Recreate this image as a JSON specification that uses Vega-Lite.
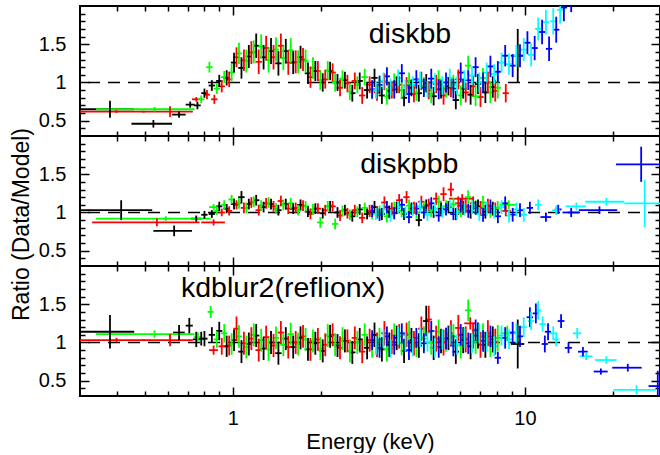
{
"$schema":"https://vega.github.io/schema/vega-lite/v6.json",
"padding":{"left":8,"top":4,"right":0,"bottom":0},
"background":"white",
"spacing":0,
"bounds":"flush",
"config":{"view":{"stroke":"black","strokeWidth":2},"font":"Liberation Sans","axis":{"domain":false,"grid":false,"tickColor":"black","tickWidth":1.5,"labelFont":"Liberation Sans","labelFontSize":20,"labelColor":"black","titleFont":"Liberation Sans","titleFontSize":22,"titleFontWeight":"normal","titleColor":"black"}},
"datasets":{
"p1":[
{"c":"k","e":0.38,"w":0.08,"r":0.65,"d":0.11},{"c":"k","e":0.535,"w":0.085,"r":0.46,"d":0.05},{"c":"k","e":0.655,"w":0.035,"r":0.58,"d":0.04},{"c":"k","e":0.715,"w":0.025,"r":0.71,"d":0.04},{"c":"k","e":0.757,"w":0.02,"r":0.70,"d":0.05},
{"c":"k","e":0.8,"w":0.02,"r":0.86,"d":0.06},{"c":"k","e":0.848,"w":0.021,"r":0.96,"d":0.07},{"c":"k","e":0.899,"w":0.022,"r":1.02,"d":0.08},{"c":"k","e":0.953,"w":0.024,"r":1.06,"d":0.1},{"c":"k","e":1.01,"w":0.025,"r":1.26,"d":0.13},{"c":"k","e":1.071,"w":0.027,"r":1.19,"d":0.14},{"c":"k","e":1.135,"w":0.028,"r":1.34,"d":0.15},{"c":"k","e":1.203,"w":0.03,"r":1.48,"d":0.16},{"c":"k","e":1.275,"w":0.032,"r":1.33,"d":0.16},{"c":"k","e":1.352,"w":0.034,"r":1.41,"d":0.17},{"c":"k","e":1.433,"w":0.036,"r":1.25,"d":0.16},{"c":"k","e":1.519,"w":0.038,"r":1.41,"d":0.16},{"c":"k","e":1.61,"w":0.04,"r":1.26,"d":0.15},{"c":"k","e":1.706,"w":0.043,"r":1.33,"d":0.15},{"c":"k","e":1.809,"w":0.045,"r":1.12,"d":0.14},{"c":"k","e":1.917,"w":0.048,"r":1.15,"d":0.13},{"c":"k","e":2.032,"w":0.051,"r":1.0,"d":0.12},{"c":"k","e":2.154,"w":0.054,"r":1.15,"d":0.12},{"c":"k","e":2.283,"w":0.057,"r":1.0,"d":0.11},{"c":"k","e":2.42,"w":0.06,"r":1.03,"d":0.11},{"c":"k","e":2.566,"w":0.064,"r":0.86,"d":0.11},{"c":"k","e":2.72,"w":0.068,"r":1.02,"d":0.11},{"c":"k","e":2.883,"w":0.072,"r":0.9,"d":0.11},{"c":"k","e":3.056,"w":0.076,"r":1.06,"d":0.12},{"c":"k","e":3.239,"w":0.081,"r":0.83,"d":0.11},{"c":"k","e":3.434,"w":0.086,"r":0.89,"d":0.11},{"c":"k","e":3.64,"w":0.091,"r":0.97,"d":0.11},{"c":"k","e":3.858,"w":0.096,"r":0.8,"d":0.11},{"c":"k","e":4.089,"w":0.102,"r":0.93,"d":0.11},{"c":"k","e":4.335,"w":0.108,"r":0.86,"d":0.11},{"c":"k","e":4.595,"w":0.115,"r":0.99,"d":0.12},{"c":"k","e":4.871,"w":0.122,"r":0.82,"d":0.12},{"c":"k","e":5.163,"w":0.129,"r":0.91,"d":0.12},{"c":"k","e":5.473,"w":0.137,"r":0.95,"d":0.12},{"c":"k","e":5.801,"w":0.145,"r":0.77,"d":0.12},{"c":"k","e":6.149,"w":0.154,"r":0.92,"d":0.13},{"c":"k","e":6.518,"w":0.163,"r":0.84,"d":0.13},{"c":"k","e":6.909,"w":0.173,"r":0.98,"d":0.13},{"c":"k","e":7.323,"w":0.183,"r":0.87,"d":0.14},{"c":"k","e":7.763,"w":0.194,"r":0.94,"d":0.14},{"c":"k","e":9.45,"w":0.5,"r":1.35,"d":0.35},
{"c":"r","e":0.4,"w":0.1,"r":0.62,"d":0.02},{"c":"r","e":0.61,"w":0.12,"r":0.62,"d":0.07},{"c":"r","e":0.75,"w":0.025,"r":0.78,"d":0.03},
{"c":"r","e":0.816,"w":0.02,"r":0.84,"d":0.06},{"c":"r","e":0.865,"w":0.022,"r":0.78,"d":0.06},{"c":"r","e":0.917,"w":0.023,"r":0.95,"d":0.08},{"c":"r","e":0.972,"w":0.024,"r":1.04,"d":0.1},{"c":"r","e":1.03,"w":0.026,"r":1.33,"d":0.13},{"c":"r","e":1.092,"w":0.027,"r":1.29,"d":0.14},{"c":"r","e":1.158,"w":0.029,"r":1.39,"d":0.15},{"c":"r","e":1.227,"w":0.031,"r":1.27,"d":0.16},{"c":"r","e":1.301,"w":0.033,"r":1.45,"d":0.16},{"c":"r","e":1.379,"w":0.034,"r":1.33,"d":0.16},{"c":"r","e":1.461,"w":0.037,"r":1.48,"d":0.16},{"c":"r","e":1.549,"w":0.039,"r":1.26,"d":0.16},{"c":"r","e":1.642,"w":0.041,"r":1.27,"d":0.15},{"c":"r","e":1.74,"w":0.044,"r":1.3,"d":0.15},{"c":"r","e":1.845,"w":0.046,"r":1.07,"d":0.14},{"c":"r","e":1.956,"w":0.049,"r":1.15,"d":0.13},{"c":"r","e":2.073,"w":0.052,"r":1.04,"d":0.12},{"c":"r","e":2.197,"w":0.055,"r":1.13,"d":0.12},{"c":"r","e":2.329,"w":0.058,"r":0.93,"d":0.11},{"c":"r","e":2.469,"w":0.062,"r":0.99,"d":0.11},{"c":"r","e":2.617,"w":0.065,"r":1.02,"d":0.11},{"c":"r","e":2.774,"w":0.069,"r":0.83,"d":0.11},{"c":"r","e":2.941,"w":0.074,"r":0.97,"d":0.11},{"c":"r","e":3.117,"w":0.078,"r":0.87,"d":0.11},{"c":"r","e":3.304,"w":0.083,"r":1.01,"d":0.11},{"c":"r","e":3.502,"w":0.088,"r":0.9,"d":0.11},{"c":"r","e":3.712,"w":0.093,"r":0.97,"d":0.11},{"c":"r","e":3.935,"w":0.098,"r":0.96,"d":0.11},{"c":"r","e":4.171,"w":0.104,"r":0.85,"d":0.11},{"c":"r","e":4.421,"w":0.111,"r":1.02,"d":0.12},{"c":"r","e":4.687,"w":0.117,"r":0.9,"d":0.12},{"c":"r","e":4.968,"w":0.124,"r":0.98,"d":0.12},{"c":"r","e":5.266,"w":0.132,"r":0.83,"d":0.12},{"c":"r","e":5.582,"w":0.14,"r":0.93,"d":0.12},{"c":"r","e":5.917,"w":0.148,"r":1.04,"d":0.13},{"c":"r","e":6.272,"w":0.157,"r":0.87,"d":0.13},{"c":"r","e":6.648,"w":0.166,"r":0.95,"d":0.13},{"c":"r","e":7.047,"w":0.176,"r":0.81,"d":0.13},{"c":"r","e":7.47,"w":0.187,"r":1.0,"d":0.14},{"c":"r","e":7.918,"w":0.198,"r":0.89,"d":0.14},{"c":"r","e":8.6,"w":0.21,"r":0.86,"d":0.12},
{"c":"g","e":0.54,"w":0.2,"r":0.65,"d":0.03},{"c":"g","e":0.78,"w":0.02,"r":0.78,"d":0.05},
{"c":"g","e":0.832,"w":0.021,"r":1.2,"d":0.07},{"c":"g","e":0.882,"w":0.022,"r":0.92,"d":0.07},{"c":"g","e":0.935,"w":0.023,"r":1.07,"d":0.08},{"c":"g","e":0.991,"w":0.025,"r":1.13,"d":0.11},{"c":"g","e":1.05,"w":0.026,"r":1.38,"d":0.14},{"c":"g","e":1.113,"w":0.028,"r":1.28,"d":0.15},{"c":"g","e":1.18,"w":0.03,"r":1.4,"d":0.15},{"c":"g","e":1.251,"w":0.031,"r":1.47,"d":0.16},{"c":"g","e":1.326,"w":0.033,"r":1.29,"d":0.16},{"c":"g","e":1.406,"w":0.035,"r":1.43,"d":0.16},{"c":"g","e":1.49,"w":0.037,"r":1.32,"d":0.16},{"c":"g","e":1.579,"w":0.039,"r":1.42,"d":0.16},{"c":"g","e":1.674,"w":0.042,"r":1.27,"d":0.15},{"c":"g","e":1.775,"w":0.044,"r":1.28,"d":0.15},{"c":"g","e":1.881,"w":0.047,"r":1.19,"d":0.14},{"c":"g","e":1.994,"w":0.05,"r":1.03,"d":0.13},{"c":"g","e":2.114,"w":0.053,"r":1.16,"d":0.12},{"c":"g","e":2.241,"w":0.056,"r":1.0,"d":0.12},{"c":"g","e":2.375,"w":0.059,"r":1.05,"d":0.11},{"c":"g","e":2.517,"w":0.063,"r":0.88,"d":0.11},{"c":"g","e":2.669,"w":0.067,"r":0.97,"d":0.11},{"c":"g","e":2.829,"w":0.071,"r":1.07,"d":0.11},{"c":"g","e":2.999,"w":0.075,"r":0.89,"d":0.11},{"c":"g","e":3.178,"w":0.079,"r":0.96,"d":0.11},{"c":"g","e":3.369,"w":0.084,"r":0.82,"d":0.11},{"c":"g","e":3.571,"w":0.089,"r":1.01,"d":0.11},{"c":"g","e":3.786,"w":0.095,"r":0.9,"d":0.11},{"c":"g","e":4.013,"w":0.1,"r":1.02,"d":0.11},{"c":"g","e":4.254,"w":0.106,"r":0.87,"d":0.11},{"c":"g","e":4.509,"w":0.113,"r":0.95,"d":0.12},{"c":"g","e":4.779,"w":0.119,"r":0.85,"d":0.12},{"c":"g","e":5.066,"w":0.127,"r":1.04,"d":0.12},{"c":"g","e":5.37,"w":0.134,"r":0.92,"d":0.12},{"c":"g","e":5.692,"w":0.142,"r":0.98,"d":0.12},{"c":"g","e":6.034,"w":0.151,"r":0.83,"d":0.13},{"c":"g","e":6.396,"w":0.16,"r":1.22,"d":0.13},{"c":"g","e":6.779,"w":0.2,"r":0.82,"d":0.13},{"c":"g","e":7.186,"w":0.18,"r":1.06,"d":0.13},{"c":"g","e":7.617,"w":0.19,"r":0.87,"d":0.14},{"c":"g","e":8.074,"w":0.202,"r":0.93,"d":0.14},
{"c":"b","e":3.0,"w":0.075,"r":0.91,"d":0.12},{"c":"b","e":3.18,"w":0.08,"r":0.97,"d":0.12},{"c":"b","e":3.37,"w":0.084,"r":1.08,"d":0.12},{"c":"b","e":3.57,"w":0.089,"r":0.91,"d":0.12},{"c":"b","e":3.79,"w":0.095,"r":1.12,"d":0.12},{"c":"b","e":4.01,"w":0.1,"r":0.85,"d":0.12},{"c":"b","e":4.25,"w":0.106,"r":1.04,"d":0.12},{"c":"b","e":4.51,"w":0.113,"r":0.93,"d":0.12},{"c":"b","e":4.78,"w":0.12,"r":1.05,"d":0.13},{"c":"b","e":5.07,"w":0.127,"r":0.91,"d":0.13},{"c":"b","e":5.37,"w":0.134,"r":1.0,"d":0.13},{"c":"b","e":5.69,"w":0.142,"r":0.92,"d":0.13},{"c":"b","e":6.03,"w":0.151,"r":1.13,"d":0.13},{"c":"b","e":6.4,"w":0.16,"r":1.03,"d":0.13},{"c":"b","e":6.78,"w":0.17,"r":1.2,"d":0.13},{"c":"b","e":7.19,"w":0.18,"r":1.0,"d":0.13},{"c":"b","e":7.62,"w":0.19,"r":1.21,"d":0.14},{"c":"b","e":8.08,"w":0.202,"r":1.14,"d":0.14},{"c":"b","e":8.56,"w":0.214,"r":1.35,"d":0.14},{"c":"b","e":9.08,"w":0.227,"r":1.22,"d":0.15},{"c":"b","e":9.62,"w":0.24,"r":1.35,"d":0.15},{"c":"b","e":10.2,"w":0.255,"r":1.52,"d":0.15},{"c":"b","e":10.8,"w":0.27,"r":1.45,"d":0.16},{"c":"b","e":11.45,"w":0.29,"r":1.66,"d":0.16},{"c":"b","e":12.1,"w":0.3,"r":1.44,"d":0.16},{"c":"b","e":12.8,"w":0.32,"r":1.69,"d":0.17},{"c":"b","e":13.6,"w":0.34,"r":1.98,"d":0.18},{"c":"b","e":14.4,"w":0.36,"r":2.1,"d":0.18},
{"c":"c","e":3.09,"w":0.077,"r":0.9,"d":0.11},{"c":"c","e":3.28,"w":0.082,"r":1.02,"d":0.11},{"c":"c","e":3.47,"w":0.087,"r":0.94,"d":0.11},{"c":"c","e":3.68,"w":0.092,"r":1.06,"d":0.11},{"c":"c","e":3.9,"w":0.098,"r":0.93,"d":0.11},{"c":"c","e":4.13,"w":0.103,"r":0.97,"d":0.11},{"c":"c","e":4.38,"w":0.11,"r":1.03,"d":0.11},{"c":"c","e":4.64,"w":0.116,"r":0.91,"d":0.11},{"c":"c","e":4.92,"w":0.123,"r":1.0,"d":0.12},{"c":"c","e":5.22,"w":0.13,"r":0.96,"d":0.12},{"c":"c","e":5.53,"w":0.138,"r":1.06,"d":0.12},{"c":"c","e":5.86,"w":0.147,"r":0.96,"d":0.12},{"c":"c","e":6.21,"w":0.155,"r":1.04,"d":0.12},{"c":"c","e":6.59,"w":0.165,"r":1.09,"d":0.12},{"c":"c","e":6.98,"w":0.175,"r":1.0,"d":0.13},{"c":"c","e":7.4,"w":0.185,"r":1.13,"d":0.13},{"c":"c","e":7.85,"w":0.196,"r":1.11,"d":0.13},{"c":"c","e":8.32,"w":0.208,"r":1.26,"d":0.13},{"c":"c","e":8.82,"w":0.22,"r":1.24,"d":0.14},{"c":"c","e":9.35,"w":0.234,"r":1.35,"d":0.14},{"c":"c","e":9.91,"w":0.248,"r":1.43,"d":0.15},{"c":"c","e":10.5,"w":0.26,"r":1.36,"d":0.15},{"c":"c","e":11.1,"w":0.28,"r":1.7,"d":0.15},{"c":"c","e":11.8,"w":0.3,"r":1.79,"d":0.16},{"c":"c","e":12.5,"w":0.31,"r":1.8,"d":0.17},{"c":"c","e":13.2,"w":0.33,"r":1.95,"d":0.18}
],
"p2":[
{"c":"k","e":0.415,"w":0.115,"r":1.03,"d":0.13},{"c":"k","e":0.63,"w":0.095,"r":0.76,"d":0.07},{"c":"k","e":0.75,"w":0.03,"r":0.92,"d":0.04},
{"c":"k","e":0.8,"w":0.02,"r":0.97,"d":0.05},{"c":"k","e":0.848,"w":0.021,"r":0.98,"d":0.05},{"c":"k","e":0.899,"w":0.022,"r":1.08,"d":0.06},{"c":"k","e":0.953,"w":0.024,"r":1.05,"d":0.06},{"c":"k","e":1.01,"w":0.025,"r":1.11,"d":0.07},{"c":"k","e":1.071,"w":0.027,"r":1.2,"d":0.08},{"c":"k","e":1.135,"w":0.028,"r":1.11,"d":0.07},{"c":"k","e":1.203,"w":0.03,"r":1.16,"d":0.07},{"c":"k","e":1.275,"w":0.032,"r":1.07,"d":0.07},{"c":"k","e":1.352,"w":0.034,"r":1.11,"d":0.07},{"c":"k","e":1.433,"w":0.036,"r":1.03,"d":0.07},{"c":"k","e":1.519,"w":0.038,"r":1.11,"d":0.07},{"c":"k","e":1.61,"w":0.04,"r":1.05,"d":0.07},{"c":"k","e":1.706,"w":0.043,"r":1.1,"d":0.07},{"c":"k","e":1.809,"w":0.045,"r":1.01,"d":0.07},{"c":"k","e":1.917,"w":0.048,"r":1.05,"d":0.07},{"c":"k","e":2.032,"w":0.051,"r":0.99,"d":0.07},{"c":"k","e":2.154,"w":0.054,"r":1.08,"d":0.07},{"c":"k","e":2.283,"w":0.057,"r":1.0,"d":0.07},{"c":"k","e":2.42,"w":0.06,"r":1.03,"d":0.07},{"c":"k","e":2.566,"w":0.064,"r":0.95,"d":0.07},{"c":"k","e":2.72,"w":0.068,"r":1.04,"d":0.07},{"c":"k","e":2.883,"w":0.072,"r":0.98,"d":0.07},{"c":"k","e":3.056,"w":0.076,"r":1.07,"d":0.08},{"c":"k","e":3.239,"w":0.081,"r":0.98,"d":0.08},{"c":"k","e":3.434,"w":0.086,"r":1.01,"d":0.08},{"c":"k","e":3.64,"w":0.091,"r":1.06,"d":0.08},{"c":"k","e":3.858,"w":0.096,"r":0.98,"d":0.08},{"c":"k","e":4.089,"w":0.102,"r":1.05,"d":0.08},{"c":"k","e":4.335,"w":0.108,"r":0.9,"d":0.08},{"c":"k","e":4.595,"w":0.115,"r":1.09,"d":0.08},{"c":"k","e":4.871,"w":0.122,"r":1.01,"d":0.08},{"c":"k","e":5.163,"w":0.129,"r":1.05,"d":0.08},{"c":"k","e":5.473,"w":0.137,"r":1.07,"d":0.08},{"c":"k","e":5.801,"w":0.145,"r":0.98,"d":0.08},{"c":"k","e":6.149,"w":0.154,"r":1.06,"d":0.09},{"c":"k","e":6.518,"w":0.163,"r":1.01,"d":0.09},{"c":"k","e":6.909,"w":0.173,"r":1.08,"d":0.09},{"c":"k","e":7.323,"w":0.183,"r":1.01,"d":0.09},{"c":"k","e":7.763,"w":0.194,"r":1.05,"d":0.09},
{"c":"r","e":0.55,"w":0.22,"r":0.87,"d":0.05},{"c":"r","e":0.86,"w":0.08,"r":0.87,"d":0.04},
{"c":"r","e":0.917,"w":0.023,"r":1.0,"d":0.05},{"c":"r","e":0.972,"w":0.024,"r":1.02,"d":0.06},{"c":"r","e":1.03,"w":0.026,"r":1.1,"d":0.06},{"c":"r","e":1.092,"w":0.027,"r":1.06,"d":0.07},{"c":"r","e":1.158,"w":0.029,"r":1.13,"d":0.07},{"c":"r","e":1.227,"w":0.031,"r":1.03,"d":0.07},{"c":"r","e":1.301,"w":0.033,"r":1.12,"d":0.07},{"c":"r","e":1.379,"w":0.034,"r":1.08,"d":0.07},{"c":"r","e":1.461,"w":0.037,"r":1.15,"d":0.07},{"c":"r","e":1.549,"w":0.039,"r":1.05,"d":0.07},{"c":"r","e":1.642,"w":0.041,"r":1.06,"d":0.07},{"c":"r","e":1.74,"w":0.044,"r":1.09,"d":0.07},{"c":"r","e":1.845,"w":0.046,"r":0.98,"d":0.07},{"c":"r","e":1.956,"w":0.049,"r":1.05,"d":0.07},{"c":"r","e":2.073,"w":0.052,"r":1.03,"d":0.07},{"c":"r","e":2.197,"w":0.055,"r":1.08,"d":0.07},{"c":"r","e":2.329,"w":0.058,"r":0.96,"d":0.07},{"c":"r","e":2.469,"w":0.062,"r":0.99,"d":0.07},{"c":"r","e":2.617,"w":0.065,"r":1.03,"d":0.07},{"c":"r","e":2.774,"w":0.069,"r":0.93,"d":0.07},{"c":"r","e":2.941,"w":0.074,"r":1.02,"d":0.08},{"c":"r","e":3.117,"w":0.078,"r":1.0,"d":0.08},{"c":"r","e":3.304,"w":0.083,"r":1.13,"d":0.08},{"c":"r","e":3.502,"w":0.088,"r":1.05,"d":0.08},{"c":"r","e":3.712,"w":0.093,"r":1.16,"d":0.08},{"c":"r","e":3.935,"w":0.098,"r":1.2,"d":0.08},{"c":"r","e":4.171,"w":0.104,"r":1.06,"d":0.08},{"c":"r","e":4.421,"w":0.111,"r":1.14,"d":0.08},{"c":"r","e":4.687,"w":0.117,"r":1.1,"d":0.08},{"c":"r","e":4.968,"w":0.124,"r":1.18,"d":0.08},{"c":"r","e":5.266,"w":0.132,"r":1.24,"d":0.09},{"c":"r","e":5.582,"w":0.14,"r":1.3,"d":0.09},{"c":"r","e":5.917,"w":0.148,"r":1.12,"d":0.09},{"c":"r","e":6.1,"w":0.6,"r":1.18,"d":0.06},{"c":"r","e":6.272,"w":0.157,"r":1.08,"d":0.09},{"c":"r","e":6.648,"w":0.166,"r":1.12,"d":0.09},{"c":"r","e":7.047,"w":0.176,"r":1.06,"d":0.09},{"c":"r","e":7.47,"w":0.187,"r":1.09,"d":0.09},{"c":"r","e":7.918,"w":0.198,"r":1.04,"d":0.09},{"c":"r","e":8.6,"w":0.35,"r":1.02,"d":0.07},
{"c":"g","e":0.59,"w":0.25,"r":0.92,"d":0.03},{"c":"g","e":0.86,"w":0.03,"r":1.07,"d":0.04},
{"c":"g","e":0.882,"w":0.022,"r":1.02,"d":0.05},{"c":"g","e":0.935,"w":0.023,"r":1.1,"d":0.06},{"c":"g","e":0.991,"w":0.025,"r":1.17,"d":0.06},{"c":"g","e":1.05,"w":0.026,"r":1.12,"d":0.07},{"c":"g","e":1.113,"w":0.028,"r":1.06,"d":0.07},{"c":"g","e":1.18,"w":0.03,"r":1.14,"d":0.07},{"c":"g","e":1.251,"w":0.031,"r":1.09,"d":0.07},{"c":"g","e":1.326,"w":0.033,"r":1.13,"d":0.07},{"c":"g","e":1.406,"w":0.035,"r":1.05,"d":0.07},{"c":"g","e":1.49,"w":0.037,"r":1.1,"d":0.07},{"c":"g","e":1.579,"w":0.039,"r":1.12,"d":0.07},{"c":"g","e":1.674,"w":0.042,"r":1.03,"d":0.07},{"c":"g","e":1.775,"w":0.044,"r":1.08,"d":0.07},{"c":"g","e":1.881,"w":0.047,"r":1.04,"d":0.07},{"c":"g","e":1.994,"w":0.05,"r":0.87,"d":0.07},{"c":"g","e":2.114,"w":0.053,"r":1.08,"d":0.07},{"c":"g","e":2.241,"w":0.056,"r":0.85,"d":0.07},{"c":"g","e":2.375,"w":0.059,"r":1.02,"d":0.07},{"c":"g","e":2.517,"w":0.063,"r":0.97,"d":0.07},{"c":"g","e":2.669,"w":0.067,"r":1.01,"d":0.07},{"c":"g","e":2.829,"w":0.071,"r":1.06,"d":0.07},{"c":"g","e":2.999,"w":0.075,"r":0.98,"d":0.07},{"c":"g","e":3.178,"w":0.079,"r":1.01,"d":0.08},{"c":"g","e":3.369,"w":0.084,"r":0.95,"d":0.08},{"c":"g","e":3.571,"w":0.089,"r":1.06,"d":0.08},{"c":"g","e":3.786,"w":0.095,"r":1.02,"d":0.08},{"c":"g","e":4.013,"w":0.1,"r":1.09,"d":0.08},{"c":"g","e":4.254,"w":0.106,"r":1.0,"d":0.08},{"c":"g","e":4.509,"w":0.113,"r":1.06,"d":0.08},{"c":"g","e":4.779,"w":0.119,"r":1.02,"d":0.08},{"c":"g","e":5.066,"w":0.127,"r":1.14,"d":0.08},{"c":"g","e":5.37,"w":0.134,"r":1.08,"d":0.08},{"c":"g","e":5.692,"w":0.142,"r":1.11,"d":0.08},{"c":"g","e":6.034,"w":0.151,"r":1.03,"d":0.09},{"c":"g","e":6.396,"w":0.16,"r":1.2,"d":0.09},{"c":"g","e":6.779,"w":0.169,"r":1.07,"d":0.09},{"c":"g","e":7.186,"w":0.18,"r":1.13,"d":0.09},{"c":"g","e":7.617,"w":0.19,"r":1.02,"d":0.09},{"c":"g","e":8.074,"w":0.202,"r":1.06,"d":0.09},{"c":"g","e":8.8,"w":0.6,"r":1.1,"d":0.06},
{"c":"b","e":3.0,"w":0.075,"r":1.02,"d":0.08},{"c":"b","e":3.18,"w":0.08,"r":0.97,"d":0.08},{"c":"b","e":3.37,"w":0.084,"r":1.07,"d":0.08},{"c":"b","e":3.57,"w":0.089,"r":0.99,"d":0.08},{"c":"b","e":3.79,"w":0.095,"r":1.1,"d":0.08},{"c":"b","e":4.01,"w":0.1,"r":0.94,"d":0.08},{"c":"b","e":4.25,"w":0.106,"r":1.05,"d":0.08},{"c":"b","e":4.51,"w":0.113,"r":1.0,"d":0.08},{"c":"b","e":4.78,"w":0.12,"r":1.12,"d":0.08},{"c":"b","e":5.07,"w":0.127,"r":0.96,"d":0.08},{"c":"b","e":5.37,"w":0.134,"r":1.04,"d":0.08},{"c":"b","e":5.69,"w":0.142,"r":0.98,"d":0.08},{"c":"b","e":6.03,"w":0.151,"r":1.09,"d":0.09},{"c":"b","e":6.4,"w":0.16,"r":1.02,"d":0.09},{"c":"b","e":6.78,"w":0.17,"r":1.06,"d":0.09},{"c":"b","e":7.19,"w":0.18,"r":0.97,"d":0.09},{"c":"b","e":7.62,"w":0.19,"r":1.08,"d":0.09},{"c":"b","e":8.08,"w":0.202,"r":0.95,"d":0.09},{"c":"b","e":8.56,"w":0.214,"r":1.12,"d":0.09},{"c":"b","e":9.08,"w":0.227,"r":0.97,"d":0.09},{"c":"b","e":9.62,"w":0.24,"r":1.03,"d":0.09},{"c":"b","e":10.4,"w":0.26,"r":1.06,"d":0.08},{"c":"b","e":11.8,"w":0.5,"r":0.94,"d":0.06},{"c":"b","e":13.0,"w":0.35,"r":1.04,"d":0.06},{"c":"b","e":14.4,"w":0.95,"r":1.0,"d":0.06},{"c":"b","e":18.0,"w":2.7,"r":1.03,"d":0.05},{"c":"b","e":25.0,"w":4.5,"r":1.63,"d":0.23},
{"c":"c","e":3.09,"w":0.077,"r":0.98,"d":0.08},{"c":"c","e":3.28,"w":0.082,"r":1.04,"d":0.08},{"c":"c","e":3.47,"w":0.087,"r":0.96,"d":0.08},{"c":"c","e":3.68,"w":0.092,"r":1.07,"d":0.08},{"c":"c","e":3.9,"w":0.098,"r":1.0,"d":0.08},{"c":"c","e":4.13,"w":0.103,"r":1.03,"d":0.08},{"c":"c","e":4.38,"w":0.11,"r":1.08,"d":0.08},{"c":"c","e":4.64,"w":0.116,"r":0.97,"d":0.08},{"c":"c","e":4.92,"w":0.123,"r":1.05,"d":0.08},{"c":"c","e":5.22,"w":0.13,"r":1.01,"d":0.08},{"c":"c","e":5.53,"w":0.138,"r":1.09,"d":0.08},{"c":"c","e":5.86,"w":0.147,"r":0.99,"d":0.08},{"c":"c","e":6.21,"w":0.155,"r":1.04,"d":0.08},{"c":"c","e":6.59,"w":0.165,"r":1.07,"d":0.09},{"c":"c","e":6.98,"w":0.175,"r":0.98,"d":0.09},{"c":"c","e":7.4,"w":0.185,"r":1.05,"d":0.09},{"c":"c","e":7.85,"w":0.196,"r":1.01,"d":0.09},{"c":"c","e":8.32,"w":0.208,"r":1.07,"d":0.09},{"c":"c","e":8.82,"w":0.22,"r":0.96,"d":0.09},{"c":"c","e":9.35,"w":0.234,"r":1.04,"d":0.09},{"c":"c","e":9.91,"w":0.248,"r":0.97,"d":0.09},{"c":"c","e":11.1,"w":0.28,"r":1.1,"d":0.07},{"c":"c","e":12.8,"w":0.4,"r":1.03,"d":0.06},{"c":"c","e":15.0,"w":1.2,"r":1.08,"d":0.05},{"c":"c","e":19.0,"w":2.9,"r":1.14,"d":0.05},{"c":"c","e":25.7,"w":3.8,"r":1.12,"d":0.31}
],
"p3":[
{"c":"k","e":0.38,"w":0.08,"r":1.14,"d":0.22},{"c":"k","e":0.655,"w":0.03,"r":1.13,"d":0.1},{"c":"k","e":0.71,"w":0.02,"r":1.22,"d":0.1},{"c":"k","e":0.75,"w":0.02,"r":1.04,"d":0.1},{"c":"k","e":0.78,"w":0.02,"r":1.05,"d":0.09},
{"c":"k","e":0.8,"w":0.02,"r":1.05,"d":0.1},{"c":"k","e":0.848,"w":0.021,"r":1.1,"d":0.1},{"c":"k","e":0.899,"w":0.022,"r":1.15,"d":0.12},{"c":"k","e":0.953,"w":0.024,"r":0.95,"d":0.14},{"c":"k","e":1.01,"w":0.025,"r":1.03,"d":0.14},{"c":"k","e":1.071,"w":0.027,"r":0.88,"d":0.15},{"c":"k","e":1.135,"w":0.028,"r":0.98,"d":0.15},{"c":"k","e":1.203,"w":0.03,"r":1.09,"d":0.15},{"c":"k","e":1.275,"w":0.032,"r":0.92,"d":0.15},{"c":"k","e":1.352,"w":0.034,"r":1.0,"d":0.15},{"c":"k","e":1.433,"w":0.036,"r":0.86,"d":0.15},{"c":"k","e":1.519,"w":0.038,"r":1.05,"d":0.15},{"c":"k","e":1.61,"w":0.04,"r":0.94,"d":0.15},{"c":"k","e":1.706,"w":0.043,"r":1.06,"d":0.15},{"c":"k","e":1.809,"w":0.045,"r":0.91,"d":0.15},{"c":"k","e":1.917,"w":0.048,"r":0.99,"d":0.15},{"c":"k","e":2.032,"w":0.051,"r":0.89,"d":0.15},{"c":"k","e":2.154,"w":0.054,"r":1.08,"d":0.15},{"c":"k","e":2.283,"w":0.057,"r":0.96,"d":0.15},{"c":"k","e":2.42,"w":0.06,"r":1.02,"d":0.15},{"c":"k","e":2.566,"w":0.064,"r":0.87,"d":0.15},{"c":"k","e":2.72,"w":0.068,"r":1.04,"d":0.15},{"c":"k","e":2.883,"w":0.072,"r":0.93,"d":0.15},{"c":"k","e":3.056,"w":0.076,"r":1.1,"d":0.16},{"c":"k","e":3.239,"w":0.081,"r":0.91,"d":0.16},{"c":"k","e":3.434,"w":0.086,"r":0.97,"d":0.16},{"c":"k","e":3.64,"w":0.091,"r":1.06,"d":0.16},{"c":"k","e":3.858,"w":0.096,"r":0.89,"d":0.16},{"c":"k","e":4.089,"w":0.102,"r":1.03,"d":0.16},{"c":"k","e":4.335,"w":0.108,"r":0.96,"d":0.16},{"c":"k","e":4.595,"w":0.115,"r":1.28,"d":0.2},{"c":"k","e":4.871,"w":0.122,"r":0.93,"d":0.16},{"c":"k","e":5.163,"w":0.129,"r":1.02,"d":0.16},{"c":"k","e":5.473,"w":0.137,"r":1.06,"d":0.16},{"c":"k","e":5.801,"w":0.145,"r":0.88,"d":0.16},{"c":"k","e":6.149,"w":0.154,"r":1.03,"d":0.17},{"c":"k","e":6.518,"w":0.163,"r":0.95,"d":0.17},{"c":"k","e":6.909,"w":0.173,"r":1.09,"d":0.17},{"c":"k","e":7.323,"w":0.183,"r":0.97,"d":0.17},{"c":"k","e":7.763,"w":0.194,"r":1.04,"d":0.17},{"c":"k","e":9.45,"w":0.5,"r":0.98,"d":0.32},
{"c":"r","e":0.4,"w":0.1,"r":1.03,"d":0.03},{"c":"r","e":0.61,"w":0.12,"r":1.03,"d":0.08},{"c":"r","e":0.86,"w":0.03,"r":0.9,"d":0.06},
{"c":"r","e":0.917,"w":0.023,"r":0.95,"d":0.11},{"c":"r","e":0.972,"w":0.024,"r":0.96,"d":0.13},{"c":"r","e":1.03,"w":0.026,"r":1.18,"d":0.16},{"c":"r","e":1.092,"w":0.027,"r":0.99,"d":0.15},{"c":"r","e":1.158,"w":0.029,"r":1.05,"d":0.15},{"c":"r","e":1.227,"w":0.031,"r":0.9,"d":0.15},{"c":"r","e":1.301,"w":0.033,"r":1.07,"d":0.15},{"c":"r","e":1.379,"w":0.034,"r":0.96,"d":0.15},{"c":"r","e":1.461,"w":0.037,"r":1.13,"d":0.15},{"c":"r","e":1.549,"w":0.039,"r":0.94,"d":0.15},{"c":"r","e":1.642,"w":0.041,"r":1.0,"d":0.15},{"c":"r","e":1.74,"w":0.044,"r":1.08,"d":0.15},{"c":"r","e":1.845,"w":0.046,"r":0.91,"d":0.15},{"c":"r","e":1.956,"w":0.049,"r":1.04,"d":0.15},{"c":"r","e":2.073,"w":0.052,"r":0.97,"d":0.15},{"c":"r","e":2.197,"w":0.055,"r":1.1,"d":0.15},{"c":"r","e":2.329,"w":0.058,"r":0.93,"d":0.15},{"c":"r","e":2.469,"w":0.062,"r":1.02,"d":0.15},{"c":"r","e":2.617,"w":0.065,"r":1.06,"d":0.15},{"c":"r","e":2.774,"w":0.069,"r":0.88,"d":0.15},{"c":"r","e":2.941,"w":0.074,"r":1.03,"d":0.15},{"c":"r","e":3.117,"w":0.078,"r":0.97,"d":0.16},{"c":"r","e":3.304,"w":0.083,"r":1.12,"d":0.16},{"c":"r","e":3.502,"w":0.088,"r":1.01,"d":0.16},{"c":"r","e":3.712,"w":0.093,"r":1.08,"d":0.16},{"c":"r","e":3.935,"w":0.098,"r":1.1,"d":0.16},{"c":"r","e":4.171,"w":0.104,"r":0.99,"d":0.16},{"c":"r","e":4.421,"w":0.111,"r":1.18,"d":0.16},{"c":"r","e":4.687,"w":0.117,"r":1.3,"d":0.18},{"c":"r","e":4.968,"w":0.124,"r":1.05,"d":0.17},{"c":"r","e":5.266,"w":0.132,"r":1.0,"d":0.17},{"c":"r","e":5.582,"w":0.14,"r":1.12,"d":0.17},{"c":"r","e":5.917,"w":0.148,"r":1.19,"d":0.17},{"c":"r","e":6.272,"w":0.157,"r":1.04,"d":0.17},{"c":"r","e":6.5,"w":0.3,"r":1.25,"d":0.08},{"c":"r","e":6.648,"w":0.166,"r":1.09,"d":0.17},{"c":"r","e":7.047,"w":0.176,"r":0.97,"d":0.17},{"c":"r","e":7.47,"w":0.187,"r":1.12,"d":0.17},{"c":"r","e":7.918,"w":0.198,"r":1.01,"d":0.17},
{"c":"g","e":0.54,"w":0.2,"r":1.11,"d":0.05},{"c":"g","e":0.76,"w":0.025,"r":1.07,"d":0.06},{"c":"g","e":0.84,"w":0.02,"r":1.4,"d":0.08},
{"c":"g","e":0.882,"w":0.022,"r":1.04,"d":0.11},{"c":"g","e":0.935,"w":0.023,"r":1.12,"d":0.12},{"c":"g","e":0.991,"w":0.025,"r":0.98,"d":0.14},{"c":"g","e":1.05,"w":0.026,"r":1.08,"d":0.15},{"c":"g","e":1.113,"w":0.028,"r":0.94,"d":0.15},{"c":"g","e":1.18,"w":0.03,"r":1.1,"d":0.15},{"c":"g","e":1.251,"w":0.031,"r":1.03,"d":0.15},{"c":"g","e":1.326,"w":0.033,"r":0.91,"d":0.15},{"c":"g","e":1.406,"w":0.035,"r":1.06,"d":0.15},{"c":"g","e":1.49,"w":0.037,"r":0.97,"d":0.15},{"c":"g","e":1.579,"w":0.039,"r":1.11,"d":0.15},{"c":"g","e":1.674,"w":0.042,"r":0.98,"d":0.15},{"c":"g","e":1.775,"w":0.044,"r":1.04,"d":0.15},{"c":"g","e":1.881,"w":0.047,"r":1.02,"d":0.15},{"c":"g","e":1.994,"w":0.05,"r":0.92,"d":0.15},{"c":"g","e":2.114,"w":0.053,"r":1.09,"d":0.15},{"c":"g","e":2.241,"w":0.056,"r":0.97,"d":0.15},{"c":"g","e":2.375,"w":0.059,"r":1.05,"d":0.15},{"c":"g","e":2.517,"w":0.063,"r":0.89,"d":0.15},{"c":"g","e":2.669,"w":0.067,"r":1.0,"d":0.15},{"c":"g","e":2.829,"w":0.071,"r":1.1,"d":0.15},{"c":"g","e":2.999,"w":0.075,"r":0.96,"d":0.16},{"c":"g","e":3.178,"w":0.079,"r":1.03,"d":0.16},{"c":"g","e":3.369,"w":0.084,"r":0.91,"d":0.16},{"c":"g","e":3.571,"w":0.089,"r":1.09,"d":0.16},{"c":"g","e":3.786,"w":0.095,"r":0.99,"d":0.16},{"c":"g","e":4.013,"w":0.1,"r":1.12,"d":0.16},{"c":"g","e":4.254,"w":0.106,"r":0.97,"d":0.16},{"c":"g","e":4.509,"w":0.113,"r":1.05,"d":0.16},{"c":"g","e":4.779,"w":0.119,"r":1.0,"d":0.16},{"c":"g","e":5.066,"w":0.127,"r":1.14,"d":0.16},{"c":"g","e":5.37,"w":0.134,"r":1.04,"d":0.16},{"c":"g","e":5.692,"w":0.142,"r":1.08,"d":0.16},{"c":"g","e":6.034,"w":0.151,"r":0.96,"d":0.17},{"c":"g","e":6.396,"w":0.16,"r":1.42,"d":0.14},{"c":"g","e":6.779,"w":0.169,"r":1.02,"d":0.17},{"c":"g","e":7.186,"w":0.18,"r":1.08,"d":0.17},{"c":"g","e":7.617,"w":0.19,"r":0.98,"d":0.17},{"c":"g","e":8.074,"w":0.202,"r":1.06,"d":0.17},{"c":"g","e":8.7,"w":0.45,"r":1.12,"d":0.1},
{"c":"b","e":3.0,"w":0.075,"r":1.03,"d":0.13},{"c":"b","e":3.18,"w":0.08,"r":0.93,"d":0.13},{"c":"b","e":3.37,"w":0.084,"r":1.08,"d":0.13},{"c":"b","e":3.57,"w":0.089,"r":0.97,"d":0.13},{"c":"b","e":3.79,"w":0.095,"r":1.12,"d":0.13},{"c":"b","e":4.01,"w":0.1,"r":0.9,"d":0.13},{"c":"b","e":4.25,"w":0.106,"r":1.06,"d":0.13},{"c":"b","e":4.51,"w":0.113,"r":0.99,"d":0.13},{"c":"b","e":4.78,"w":0.12,"r":1.15,"d":0.13},{"c":"b","e":5.07,"w":0.127,"r":0.94,"d":0.14},{"c":"b","e":5.37,"w":0.134,"r":1.05,"d":0.14},{"c":"b","e":5.69,"w":0.142,"r":0.96,"d":0.14},{"c":"b","e":6.03,"w":0.151,"r":1.1,"d":0.14},{"c":"b","e":6.4,"w":0.16,"r":0.99,"d":0.14},{"c":"b","e":6.78,"w":0.17,"r":1.16,"d":0.14},{"c":"b","e":7.19,"w":0.18,"r":1.02,"d":0.14},{"c":"b","e":7.62,"w":0.19,"r":1.08,"d":0.14},{"c":"b","e":8.08,"w":0.202,"r":0.8,"d":0.08},{"c":"b","e":8.56,"w":0.214,"r":1.06,"d":0.14},{"c":"b","e":9.08,"w":0.227,"r":1.13,"d":0.14},{"c":"b","e":9.62,"w":0.24,"r":1.08,"d":0.14},{"c":"b","e":10.4,"w":0.26,"r":1.33,"d":0.13},{"c":"b","e":10.9,"w":0.27,"r":1.38,"d":0.13},{"c":"b","e":11.7,"w":0.29,"r":0.98,"d":0.11},{"c":"b","e":12.0,"w":0.3,"r":1.14,"d":0.11},{"c":"b","e":13.3,"w":0.35,"r":1.28,"d":0.09},{"c":"b","e":14.1,"w":0.4,"r":0.93,"d":0.07},{"c":"b","e":15.8,"w":0.6,"r":0.88,"d":0.06},{"c":"b","e":18.2,"w":1.0,"r":0.62,"d":0.04},{"c":"b","e":22.5,"w":2.6,"r":0.67,"d":0.05},{"c":"b","e":28.5,"w":2.0,"r":0.43,"d":0.2},
{"c":"c","e":3.09,"w":0.077,"r":0.96,"d":0.12},{"c":"c","e":3.28,"w":0.082,"r":1.05,"d":0.12},{"c":"c","e":3.47,"w":0.087,"r":0.92,"d":0.12},{"c":"c","e":3.68,"w":0.092,"r":1.09,"d":0.12},{"c":"c","e":3.9,"w":0.098,"r":1.0,"d":0.12},{"c":"c","e":4.13,"w":0.103,"r":0.94,"d":0.12},{"c":"c","e":4.38,"w":0.11,"r":1.07,"d":0.13},{"c":"c","e":4.64,"w":0.116,"r":1.01,"d":0.13},{"c":"c","e":4.92,"w":0.123,"r":0.93,"d":0.13},{"c":"c","e":5.22,"w":0.13,"r":1.04,"d":0.13},{"c":"c","e":5.53,"w":0.138,"r":1.1,"d":0.13},{"c":"c","e":5.86,"w":0.147,"r":0.97,"d":0.13},{"c":"c","e":6.21,"w":0.155,"r":1.06,"d":0.13},{"c":"c","e":6.59,"w":0.165,"r":0.99,"d":0.13},{"c":"c","e":6.98,"w":0.175,"r":1.12,"d":0.13},{"c":"c","e":7.4,"w":0.185,"r":1.01,"d":0.13},{"c":"c","e":7.85,"w":0.196,"r":0.95,"d":0.13},{"c":"c","e":8.32,"w":0.208,"r":1.09,"d":0.13},{"c":"c","e":8.82,"w":0.22,"r":1.04,"d":0.13},{"c":"c","e":9.35,"w":0.234,"r":1.12,"d":0.13},{"c":"c","e":9.91,"w":0.248,"r":1.2,"d":0.13},{"c":"c","e":10.5,"w":0.26,"r":1.28,"d":0.12},{"c":"c","e":11.1,"w":0.28,"r":1.42,"d":0.12},{"c":"c","e":11.5,"w":0.29,"r":1.24,"d":0.1},{"c":"c","e":12.5,"w":0.31,"r":1.12,"d":0.09},{"c":"c","e":12.8,"w":0.32,"r":1.04,"d":0.09},{"c":"c","e":15.1,"w":0.5,"r":1.12,"d":0.07},{"c":"c","e":16.2,"w":0.8,"r":0.82,"d":0.05},{"c":"c","e":19.0,"w":1.6,"r":0.77,"d":0.05},{"c":"c","e":24.1,"w":4.0,"r":0.38,"d":0.06}
]},
"vconcat":[
{"width":580,"height":130,"data":{"name":"p1"},
"layer":[
{"mark":{"type":"point","opacity":0,"clip":true},"encoding":{"x":{"field":"e","type":"quantitative","scale":{"type":"log","domain":[0.3,29],"nice":false},"axis":{"orient":"bottom","values":[1,10],"tickSize":-9,"labels":false,"title":null}},"y":{"field":"r","type":"quantitative","scale":{"domain":[0.3,2],"nice":false,"zero":false},"axis":{"orient":"left","values":[0.5,1,1.5],"tickSize":-9,"format":"~g","labelPadding":23,"title":null}}}},
{"mark":{"type":"point","opacity":0,"clip":true},"encoding":{"x":{"field":"e","type":"quantitative","axis":{"orient":"bottom","values":[0.4,0.5,0.6,0.7,0.8,0.9,2,3,4,5,6,7,8,9,20],"tickSize":-5,"labels":false,"title":null}},"y":{"field":"r","type":"quantitative","axis":{"orient":"left","values":[0.4,0.6,0.7,0.8,0.9,1.1,1.2,1.3,1.4,1.6,1.7,1.8,1.9],"tickSize":-5,"labels":false,"title":null}}}},
{"mark":{"type":"point","opacity":0,"clip":true},"encoding":{"x":{"field":"e","type":"quantitative","axis":{"orient":"top","values":[1,10],"tickSize":-9,"labels":false,"title":null}},"y":{"field":"r","type":"quantitative","axis":{"orient":"right","values":[0.5,1,1.5],"tickSize":-9,"labels":false,"title":null}}}},
{"mark":{"type":"point","opacity":0,"clip":true},"encoding":{"x":{"field":"e","type":"quantitative","axis":{"orient":"top","values":[0.4,0.5,0.6,0.7,0.8,0.9,2,3,4,5,6,7,8,9,20],"tickSize":-5,"labels":false,"title":null}},"y":{"field":"r","type":"quantitative","axis":{"orient":"right","values":[0.4,0.6,0.7,0.8,0.9,1.1,1.2,1.3,1.4,1.6,1.7,1.8,1.9],"tickSize":-5,"labels":false,"title":null}}}},
{"data":{"values":[{}]},"mark":{"type":"rule","color":"black","strokeWidth":1.5,"strokeDash":[12,8]},"encoding":{"y":{"datum":1,"type":"quantitative","axis":null}}},
{"mark":{"type":"errorbar","thickness":1.8,"clip":true},"encoding":{"x":{"field":"e","type":"quantitative","axis":null},"xError":{"field":"w"},"y":{"field":"r","type":"quantitative","axis":null},"color":{"field":"c","type":"nominal","scale":{"domain":["k","r","g","b","c"],"range":["#000000","#ff0000","#00ff00","#0000ff","#00ffff"]},"legend":null}}},
{"mark":{"type":"errorbar","thickness":1.8,"clip":true},"encoding":{"x":{"field":"e","type":"quantitative","axis":null},"y":{"field":"r","type":"quantitative","axis":null},"yError":{"field":"d"},"color":{"field":"c","type":"nominal","scale":{"domain":["k","r","g","b","c"],"range":["#000000","#ff0000","#00ff00","#0000ff","#00ffff"]},"legend":null}}},
{"data":{"values":[{}]},"mark":{"type":"text","text":"diskbb","align":"left","baseline":"alphabetic","fontSize":28.5,"font":"Liberation Sans","color":"black"},"encoding":{"x":{"datum":2.92,"type":"quantitative","axis":null},"y":{"datum":1.51,"type":"quantitative","axis":null}}}
],
"resolve":{"axis":{"x":"independent","y":"independent"}}},
{"width":580,"height":130,"data":{"name":"p2"},
"layer":[
{"mark":{"type":"point","opacity":0,"clip":true},"encoding":{"x":{"field":"e","type":"quantitative","scale":{"type":"log","domain":[0.3,29],"nice":false},"axis":{"orient":"bottom","values":[1,10],"tickSize":-9,"labels":false,"title":null}},"y":{"field":"r","type":"quantitative","scale":{"domain":[0.3,2],"nice":false,"zero":false},"axis":{"orient":"left","values":[0.5,1,1.5],"tickSize":-9,"format":"~g","labelPadding":23,"title":"Ratio (Data/Model)","titleFontSize":23,"titleX":-59,"titleY":88,"titleAngle":-90,"titleAlign":"center","titleBaseline":"middle"}}}},
{"mark":{"type":"point","opacity":0,"clip":true},"encoding":{"x":{"field":"e","type":"quantitative","axis":{"orient":"bottom","values":[0.4,0.5,0.6,0.7,0.8,0.9,2,3,4,5,6,7,8,9,20],"tickSize":-5,"labels":false,"title":null}},"y":{"field":"r","type":"quantitative","axis":{"orient":"left","values":[0.4,0.6,0.7,0.8,0.9,1.1,1.2,1.3,1.4,1.6,1.7,1.8,1.9],"tickSize":-5,"labels":false,"title":null}}}},
{"mark":{"type":"point","opacity":0,"clip":true},"encoding":{"x":{"field":"e","type":"quantitative","axis":{"orient":"top","values":[1,10],"tickSize":-9,"labels":false,"title":null}},"y":{"field":"r","type":"quantitative","axis":{"orient":"right","values":[0.5,1,1.5],"tickSize":-9,"labels":false,"title":null}}}},
{"mark":{"type":"point","opacity":0,"clip":true},"encoding":{"x":{"field":"e","type":"quantitative","axis":{"orient":"top","values":[0.4,0.5,0.6,0.7,0.8,0.9,2,3,4,5,6,7,8,9,20],"tickSize":-5,"labels":false,"title":null}},"y":{"field":"r","type":"quantitative","axis":{"orient":"right","values":[0.4,0.6,0.7,0.8,0.9,1.1,1.2,1.3,1.4,1.6,1.7,1.8,1.9],"tickSize":-5,"labels":false,"title":null}}}},
{"data":{"values":[{}]},"mark":{"type":"rule","color":"black","strokeWidth":1.5,"strokeDash":[12,8]},"encoding":{"y":{"datum":1,"type":"quantitative","axis":null}}},
{"mark":{"type":"errorbar","thickness":1.8,"clip":true},"encoding":{"x":{"field":"e","type":"quantitative","axis":null},"xError":{"field":"w"},"y":{"field":"r","type":"quantitative","axis":null},"color":{"field":"c","type":"nominal","scale":{"domain":["k","r","g","b","c"],"range":["#000000","#ff0000","#00ff00","#0000ff","#00ffff"]},"legend":null}}},
{"mark":{"type":"errorbar","thickness":1.8,"clip":true},"encoding":{"x":{"field":"e","type":"quantitative","axis":null},"y":{"field":"r","type":"quantitative","axis":null},"yError":{"field":"d"},"color":{"field":"c","type":"nominal","scale":{"domain":["k","r","g","b","c"],"range":["#000000","#ff0000","#00ff00","#0000ff","#00ffff"]},"legend":null}}},
{"data":{"values":[{}]},"mark":{"type":"text","text":"diskpbb","align":"left","baseline":"alphabetic","fontSize":28.5,"font":"Liberation Sans","color":"black"},"encoding":{"x":{"datum":2.73,"type":"quantitative","axis":null},"y":{"datum":1.52,"type":"quantitative","axis":null}}}
],
"resolve":{"axis":{"x":"independent","y":"independent"}}},
{"width":580,"height":130,"data":{"name":"p3"},
"layer":[
{"mark":{"type":"point","opacity":0,"clip":true},"encoding":{"x":{"field":"e","type":"quantitative","scale":{"type":"log","domain":[0.3,29],"nice":false},"axis":{"orient":"bottom","values":[1,10],"tickSize":-9,"format":"~g","labelPadding":21,"title":"Energy (keV)","titleX":290,"titleY":52,"titleAlign":"center","titleBaseline":"alphabetic"}},"y":{"field":"r","type":"quantitative","scale":{"domain":[0.3,2],"nice":false,"zero":false},"axis":{"orient":"left","values":[0.5,1,1.5],"tickSize":-9,"format":"~g","labelPadding":23,"title":null}}}},
{"mark":{"type":"point","opacity":0,"clip":true},"encoding":{"x":{"field":"e","type":"quantitative","axis":{"orient":"bottom","values":[0.4,0.5,0.6,0.7,0.8,0.9,2,3,4,5,6,7,8,9,20],"tickSize":-5,"labels":false,"title":null}},"y":{"field":"r","type":"quantitative","axis":{"orient":"left","values":[0.4,0.6,0.7,0.8,0.9,1.1,1.2,1.3,1.4,1.6,1.7,1.8,1.9],"tickSize":-5,"labels":false,"title":null}}}},
{"mark":{"type":"point","opacity":0,"clip":true},"encoding":{"x":{"field":"e","type":"quantitative","axis":{"orient":"top","values":[1,10],"tickSize":-9,"labels":false,"title":null}},"y":{"field":"r","type":"quantitative","axis":{"orient":"right","values":[0.5,1,1.5],"tickSize":-9,"labels":false,"title":null}}}},
{"mark":{"type":"point","opacity":0,"clip":true},"encoding":{"x":{"field":"e","type":"quantitative","axis":{"orient":"top","values":[0.4,0.5,0.6,0.7,0.8,0.9,2,3,4,5,6,7,8,9,20],"tickSize":-5,"labels":false,"title":null}},"y":{"field":"r","type":"quantitative","axis":{"orient":"right","values":[0.4,0.6,0.7,0.8,0.9,1.1,1.2,1.3,1.4,1.6,1.7,1.8,1.9],"tickSize":-5,"labels":false,"title":null}}}},
{"data":{"values":[{}]},"mark":{"type":"rule","color":"black","strokeWidth":1.5,"strokeDash":[12,8]},"encoding":{"y":{"datum":1,"type":"quantitative","axis":null}}},
{"mark":{"type":"errorbar","thickness":1.8,"clip":true},"encoding":{"x":{"field":"e","type":"quantitative","axis":null},"xError":{"field":"w"},"y":{"field":"r","type":"quantitative","axis":null},"color":{"field":"c","type":"nominal","scale":{"domain":["k","r","g","b","c"],"range":["#000000","#ff0000","#00ff00","#0000ff","#00ffff"]},"legend":null}}},
{"mark":{"type":"errorbar","thickness":1.8,"clip":true},"encoding":{"x":{"field":"e","type":"quantitative","axis":null},"y":{"field":"r","type":"quantitative","axis":null},"yError":{"field":"d"},"color":{"field":"c","type":"nominal","scale":{"domain":["k","r","g","b","c"],"range":["#000000","#ff0000","#00ff00","#0000ff","#00ffff"]},"legend":null}}},
{"data":{"values":[{}]},"mark":{"type":"text","text":"kdblur2(reflionx)","align":"left","baseline":"alphabetic","fontSize":28.5,"font":"Liberation Sans","color":"black"},"encoding":{"x":{"datum":0.665,"type":"quantitative","axis":null},"y":{"datum":1.59,"type":"quantitative","axis":null}}}
],
"resolve":{"axis":{"x":"independent","y":"independent"}}}
],
"resolve":{"scale":{"x":"independent","y":"independent"}}
}
